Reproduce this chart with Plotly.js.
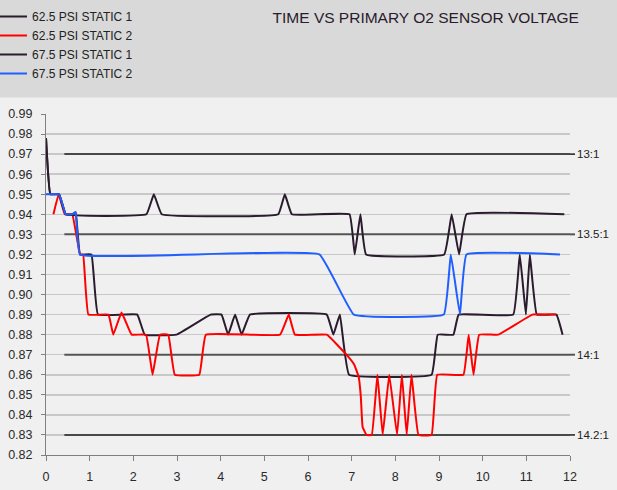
<!DOCTYPE html>
<html>
<head>
<meta charset="utf-8">
<script src="https://cdn.plot.ly/plotly-3.0.1.min.js"></script>
<style>
html,body{margin:0;padding:0;background:#f0f0f0;}
#chart{width:617px;height:490px;}
</style>
</head>
<body>
<div id="chart"></div>
<script>
// ---- data ----
const seriesNames = ['62.5 PSI STATIC 1', '62.5 PSI STATIC 2', '67.5 PSI STATIC 1', '67.5 PSI STATIC 2'];

// 62.5 PSI STATIC 1 (dark)
const s625_1_x = [0, 0.1, 0.3, 0.45, 0.6, 0.68, 0.78, 1.04, 1.19, 2.09, 2.26, 2.99, 3.77, 4.02, 4.17, 4.33, 4.48, 4.67, 6.43, 6.58, 6.73, 6.94, 8.83, 8.97, 9.33, 9.45, 10.7, 10.85, 10.99, 11.08, 11.24, 11.69, 11.83];
const s625_1_y = [0.978, 0.95, 0.95, 0.94, 0.94, 0.941, 0.92, 0.92, 0.89, 0.89, 0.88, 0.88, 0.89, 0.89, 0.88, 0.89, 0.88, 0.89, 0.89, 0.88, 0.89, 0.86, 0.86, 0.88, 0.88, 0.89, 0.89, 0.92, 0.89, 0.92, 0.89, 0.89, 0.88];

// 62.5 PSI STATIC 2 (red)
const s625_2_x = [0.17, 0.29, 0.43, 0.6, 0.78, 0.85, 0.97, 1.43, 1.54, 1.73, 1.96, 2.29, 2.44, 2.61, 2.8, 2.95, 3.51, 3.66, 5.36, 5.56, 5.7, 6.43, 6.88, 7.06, 7.16, 7.21, 7.25, 7.34, 7.46, 7.59, 7.71, 7.86, 8.04, 8.15, 8.26, 8.37, 8.53, 8.83, 8.96, 9.56, 9.68, 9.79, 9.92, 10.36, 11.14, 11.68];
const s625_2_y = [0.94, 0.95, 0.94, 0.94, 0.92, 0.92, 0.89, 0.89, 0.88, 0.891, 0.88, 0.88, 0.86, 0.88, 0.88, 0.86, 0.86, 0.88, 0.88, 0.89, 0.88, 0.88, 0.87, 0.865, 0.859, 0.849, 0.834, 0.83, 0.83, 0.86, 0.83, 0.86, 0.83, 0.86, 0.83, 0.86, 0.83, 0.83, 0.86, 0.86, 0.88, 0.86, 0.88, 0.88, 0.89, 0.89];

// 67.5 PSI STATIC 1 (dark)
const s675_1_x = [0, 0.1, 0.3, 0.45, 2.3, 2.47, 2.65, 5.32, 5.47, 5.63, 6.95, 7.07, 7.2, 7.33, 9.12, 9.29, 9.46, 9.63, 11.87];
const s675_1_y = [0.978, 0.95, 0.95, 0.94, 0.94, 0.95, 0.94, 0.94, 0.95, 0.94, 0.94, 0.92, 0.94, 0.92, 0.92, 0.94, 0.92, 0.94, 0.94];

// 67.5 PSI STATIC 2 (blue)
const s675_2_x = [0, 0.3, 0.45, 0.6, 0.68, 0.78, 6.26, 7.05, 9.11, 9.27, 9.48, 9.63, 11.77];
const s675_2_y = [0.95, 0.95, 0.94, 0.94, 0.941, 0.92, 0.92, 0.89, 0.89, 0.92, 0.89, 0.92, 0.92];

// air/fuel ratio reference levels
const refLevels = [0.97, 0.93, 0.87, 0.83];
const refLabels = ['13:1', '13.5:1', '14:1', '14.2:1'];
const refStartX = 0.42;
const xMax = 12;

const yTickVals = [0.82,0.83,0.84,0.85,0.86,0.87,0.88,0.89,0.90,0.91,0.92,0.93,0.94,0.95,0.96,0.97,0.98,0.99];
const xTickVals = [0,1,2,3,4,5,6,7,8,9,10,11,12];

// ---- styling ----
const FONT = '"Liberation Sans", Arial, sans-serif';
const DARK = '#2a1b2d';
const colors = [DARK, '#ff0000', DARK, '#1f5fff'];
const xs = [s625_1_x, s625_2_x, s675_1_x, s675_2_x];
const ys = [s625_1_y, s625_2_y, s675_1_y, s675_2_y];

const refColors = ['#1e1e1e', '#555555', '#555555', '#1e1e1e'];
const refWidths = [1.5, 2, 2, 1.5];

const refTraces = refLevels.map((lv, i) => ({
  type: 'scatter', mode: 'lines', showlegend: false, hoverinfo: 'skip',
  x: [refStartX, xMax], y: [lv, lv],
  line: {color: refColors[i], width: refWidths[i]}
}));

const traces = seriesNames.map((n, i) => ({
  type: 'scatter', mode: 'lines', name: n, legendgroup: 'g' + i,
  x: xs[i], y: ys[i],
  line: {color: colors[i], width: 2, shape: 'spline', smoothing: 0.25}
}));

const L = 46, R = 47, T = 114, B = 35;
const plotW = 617 - L - R, plotH = 490 - T - B;

const shapes = [{
  type: 'rect', xref: 'paper', yref: 'paper', layer: 'below',
  x0: -L / plotW - 0.01, x1: 1 + R / plotW + 0.01,
  y0: 1 + 16.5 / plotH, y1: 1 + (T + 5) / plotH,
  fillcolor: '#d9d9d9', line: {width: 0}
}];
// short extension of the reference lines past the right edge, up to their labels
refLevels.forEach((lv, i) => {
  shapes.push({
    type: 'line', xref: 'paper', yref: 'y', layer: 'above',
    x0: 1, x1: 1 + 5 / plotW, y0: lv, y1: lv,
    line: {color: refColors[i], width: refWidths[i]}
  });
});
const annotations = refLevels.map((lv, i) => ({
  xref: 'paper', yref: 'y', x: 1 + 5 / plotW, y: lv,
  text: refLabels[i], showarrow: false, xanchor: 'left', yanchor: 'middle',
  font: {family: FONT, size: 11.5, color: '#222'}
}));

const layout = {
  width: 617, height: 490,
  margin: {l: L, r: R, t: T, b: B, autoexpand: false},
  paper_bgcolor: '#f0f0f0', plot_bgcolor: '#f0f0f0',
  font: {family: FONT, color: '#2a2a2a'},
  title: {
    text: 'TIME VS PRIMARY O2 SENSOR VOLTAGE',
    xref: 'container', yref: 'container', x: 0.69, xanchor: 'center',
    y: 1 - 17.5 / 490, yanchor: 'middle',
    font: {family: FONT, size: 15.5, color: DARK}
  },
  showlegend: true,
  legend: {
    x: -0.103, xanchor: 'left', y: 1 + (T - 2) / plotH, yanchor: 'top',
    bgcolor: 'rgba(0,0,0,0)', font: {family: FONT, size: 12, color: '#222'},
    traceorder: 'normal', tracegroupgap: 4
  },
  xaxis: {
    range: [0, xMax], tickvals: xTickVals, showgrid: false, zeroline: false,
    showline: true, linecolor: '#808080', linewidth: 1, automargin: false,
    ticks: 'outside', ticklen: 5, tickcolor: '#808080', ticklabelstandoff: 5,
    tickfont: {family: FONT, size: 12.5, color: '#2a2a2a'}, fixedrange: true
  },
  yaxis: {
    range: [0.82, 0.99], tickvals: yTickVals, tickformat: '.2f', automargin: false,
    showgrid: true, gridcolor: '#c8c8c8', gridwidth: 1.5, zeroline: false,
    showline: true, linecolor: '#808080', linewidth: 1,
    ticks: 'outside', ticklen: 4, tickcolor: '#808080', ticklabelstandoff: 6,
    tickfont: {family: FONT, size: 12.5, color: '#2a2a2a'}, fixedrange: true
  },
  shapes: shapes,
  annotations: annotations,
  hovermode: false
};

Plotly.newPlot('chart', refTraces.concat(traces), layout, {displayModeBar: false, staticPlot: true});
</script>
</body>
</html>
